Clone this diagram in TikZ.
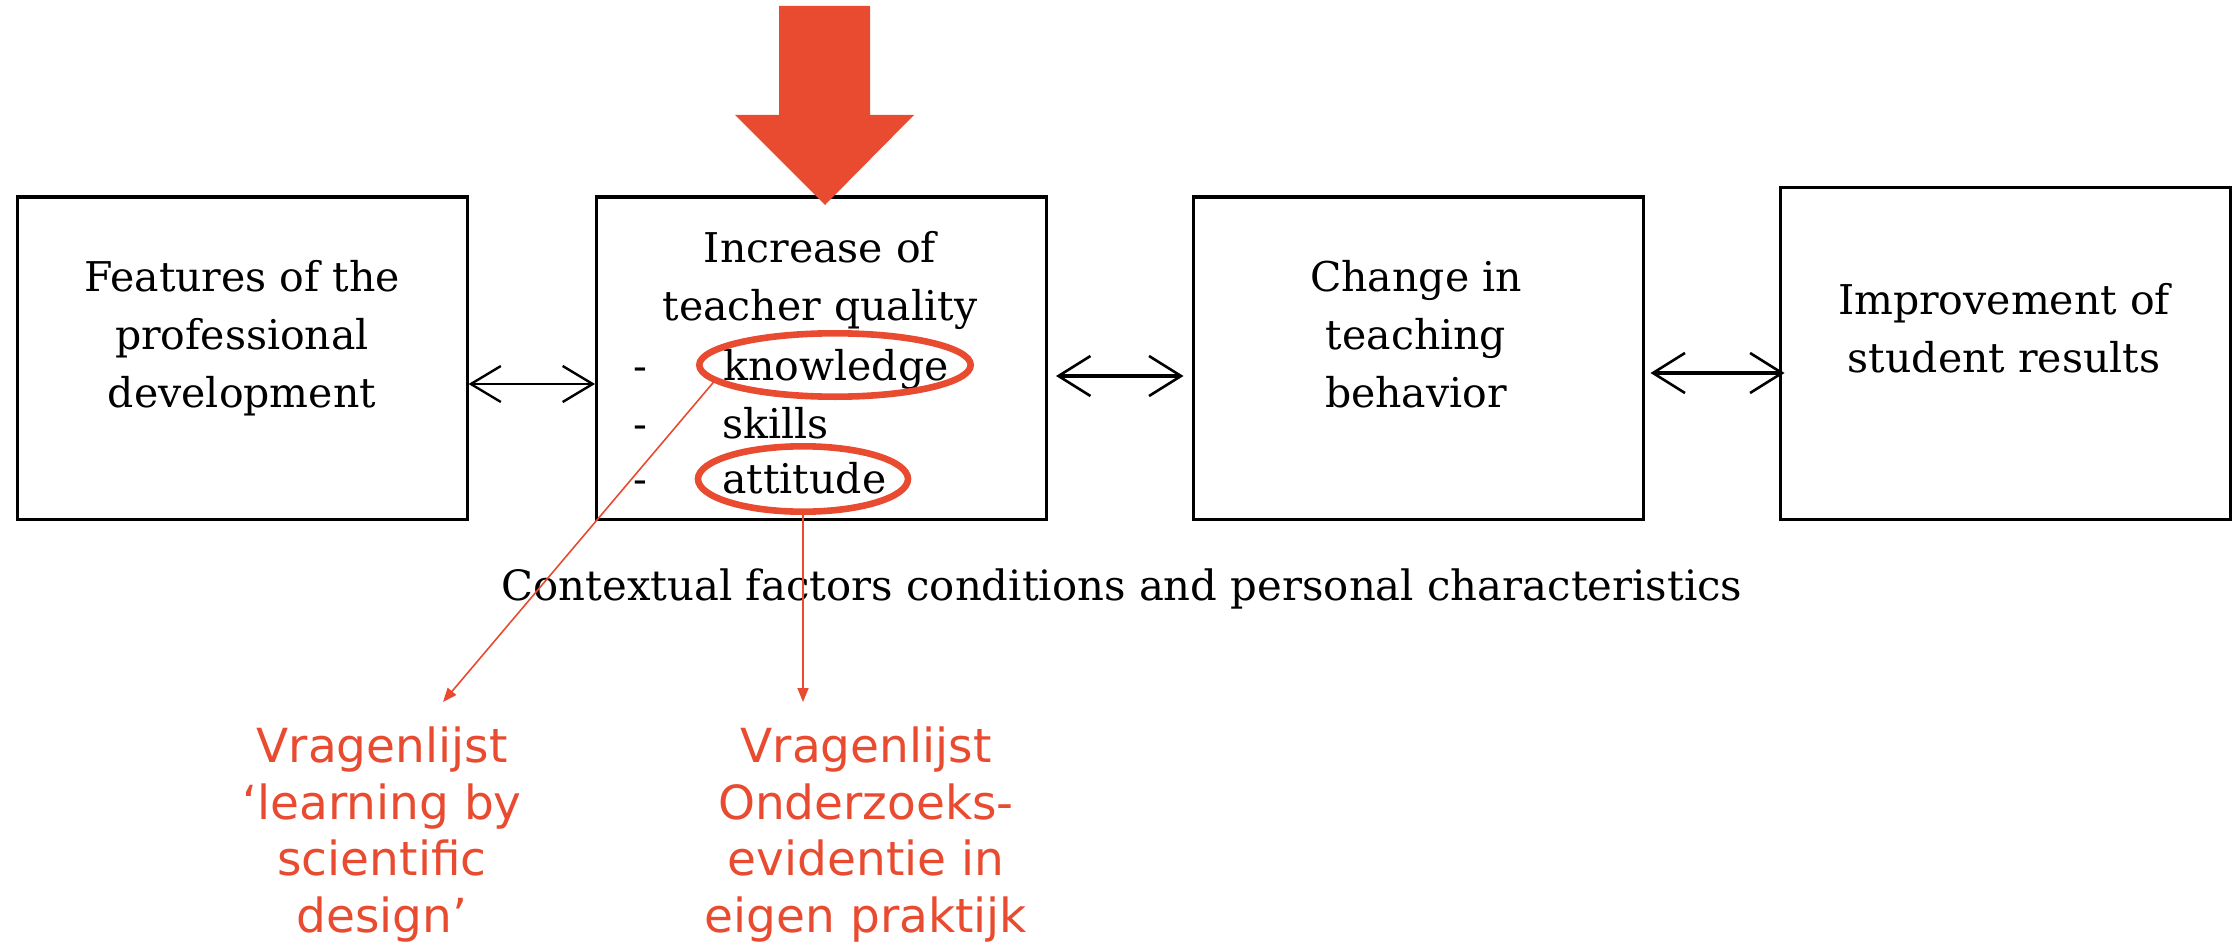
\documentclass[tikz,border=0pt]{standalone}
\usepackage{fontspec}
\setmainfont{DejaVu Serif}
\newfontfamily\redfont{DejaVu Sans}
\usetikzlibrary{arrows.meta,shapes.geometric}
\definecolor{accent}{RGB}{233,75,48}
\begin{document}
\begin{tikzpicture}[x=0.5pt,y=-0.5pt,
  box/.style={draw=black, line width=1.5pt, inner sep=0pt, minimum width=225pt},
  boxtext/.style={inner sep=0pt, anchor=base, align=center, font=\fontsize{20.5}{29}\selectfont},
  itemtext/.style={inner sep=0pt, anchor=base west, font=\fontsize{20.5}{29}\selectfont},
  ring/.style={ellipse, draw=accent, line width=3.3pt, inner sep=0pt},
  redline/.style={draw=accent, line width=0.8pt, -{Triangle[length=7pt,width=5.5pt]}},
  redtext/.style={inner sep=0pt, anchor=base, align=center, text=accent, font=\redfont\fontsize{23.5}{28.2}\selectfont},
  thinlink/.style={line width=1pt, {Straight Barb[length=15pt,width=18pt,line width=1.2pt]}-{Straight Barb[length=15pt,width=18pt,line width=1.2pt]}},
  thicklink/.style={line width=2pt, {Straight Barb[length=16pt,width=20pt,line width=1.3pt]}-{Straight Barb[length=16pt,width=20pt,line width=1.3pt]}}
]
\useasboundingbox (0,0) rectangle (2234,947);
\fill[white] (0,0) rectangle (2234,947);

% boxes
\node[box, minimum height=161pt] (b1) at (242,358) {};
\node[box, minimum height=161pt] (b2) at (821.5,358) {};
\node[box, minimum height=161pt] (b3) at (1418,358) {};
\node[box, minimum height=165.5pt] (b4) at (2005,353.5) {};

% big red arrow
\fill[accent] (779,6) -- (870,6) -- (870,115) -- (914,115) -- (825,205) -- (735,115) -- (779,115) -- cycle;

% box texts (base anchor = baseline of the last line)
\node[boxtext] (t1) at (242,407) {Features of the\\professional\\development};
\node[boxtext] (t2) at (820,320) {Increase of\\teacher quality};
\node[itemtext] (d1) at (633,380) {-};
\node[itemtext] (d2) at (633,438) {-};
\node[itemtext] (d3) at (633,493) {-};
\node[itemtext] (know) at (723,380) {knowledge};
\node[itemtext] (skill) at (722,438) {skills};
\node[itemtext] (att) at (722,493) {attitude};
\node[boxtext] (t3) at (1416,407) {Change in\\teaching\\behavior};
\node[boxtext] (t4) at (2004,372) {Improvement of\\student results};

% context text
\node[inner sep=0pt, anchor=base, font=\fontsize{20.9}{29}\selectfont] (ctx) at (1122,600) {Contextual factors conditions and personal characteristics};

% double arrows
\draw[thinlink] ([yshift=-13pt]b1.east) -- ([yshift=-13pt]b2.west);
\draw[thicklink] ([shift={(4pt,-9pt)}]b2.east) -- ([shift={(-4pt,-9pt)}]b3.west);
\draw[thicklink] ([shift={(3pt,-7.5pt)}]b3.east) -- ([shift={(3pt,-7.5pt)}]b3.east -| b4.west) ;

% rings
\node[ring, minimum width=135.7pt, minimum height=31.7pt] (kel) at (835,365) {};
\node[ring, minimum width=105pt, minimum height=32.7pt] (ael) at (803,479) {};

% red pointers
\coordinate (p1) at (443,702);
\coordinate (p2) at (803,702);
\draw[redline] (kel.188) -- (p1);
\draw[redline] (ael.south) -- (p2);

% red labels
\node[redtext] (q1) at (382,932) {Vragenlijst\\‘learning by\\scientific\\design’};
\node[redtext] (q2) at (866,932) {Vragenlijst\\Onderzoeks-\\evidentie in\\eigen praktijk};
\end{tikzpicture}
\end{document}
